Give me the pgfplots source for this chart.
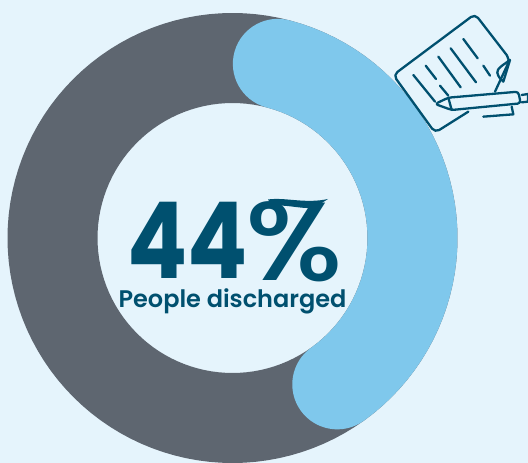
\documentclass[border=0pt]{standalone}
\usepackage{pgfplots}
\usepgfplotslibrary{polar}
\pgfplotsset{compat=1.18}
\usepackage{fontspec}
\setmainfont{Poppins}
\newfontfamily\mediumface{Poppins Medium}
\newfontfamily\semiface{Poppins SemiBold}
\definecolor{pagebg}{HTML}{E5F4FC}
\definecolor{ringgrey}{HTML}{5E6670}
\definecolor{ringblue}{HTML}{7FC8EC}
\definecolor{inkteal}{HTML}{00506F}
\begin{document}
\begin{tikzpicture}[x=1pt,y=1pt]
\fill[pagebg] (0,0) rectangle (528,463);
\useasboundingbox (0,0) rectangle (528,463);
\begin{polaraxis}[
  at={(232.5pt,225pt)}, anchor=center,
  scale only axis, width=450pt, height=450pt,
  hide axis, clip=false,
  xmin=0, xmax=360, ymin=0, ymax=225
]
% remaining 56 percent: the full ring lies underneath
\addplot[ringgrey, line width=90pt, line join=round, no markers] coordinates {
(0,180)(3,180)(6,180)(9,180)(12,180)(15,180)(18,180)(21,180)(24,180)(27,180)(30,180)
(33,180)(36,180)(39,180)(42,180)(45,180)(48,180)(51,180)(54,180)(57,180)(60,180)
(63,180)(66,180)(69,180)(72,180)(75,180)(78,180)(81,180)(84,180)(87,180)(90,180)
(93,180)(96,180)(99,180)(102,180)(105,180)(108,180)(111,180)(114,180)(117,180)(120,180)
(123,180)(126,180)(129,180)(132,180)(135,180)(138,180)(141,180)(144,180)(147,180)(150,180)
(153,180)(156,180)(159,180)(162,180)(165,180)(168,180)(171,180)(174,180)(177,180)(180,180)
(183,180)(186,180)(189,180)(192,180)(195,180)(198,180)(201,180)(204,180)(207,180)(210,180)
(213,180)(216,180)(219,180)(222,180)(225,180)(228,180)(231,180)(234,180)(237,180)(240,180)
(243,180)(246,180)(249,180)(252,180)(255,180)(258,180)(261,180)(264,180)(267,180)(270,180)
(273,180)(276,180)(279,180)(282,180)(285,180)(288,180)(291,180)(294,180)(297,180)(300,180)
(303,180)(306,180)(309,180)(312,180)(315,180)(318,180)(321,180)(324,180)(327,180)(330,180)
(333,180)(336,180)(339,180)(342,180)(345,180)(348,180)(351,180)(354,180)(357,180)(360,180)
(363,180)
};
% 44 percent arc, clockwise from the top, with rounded ends
\addplot[ringblue, line width=90pt, line join=round, line cap=round, no markers] coordinates {
(75.4,180)(72,180)(69,180)(66,180)(63,180)(60,180)(57,180)(54,180)(51,180)(48,180)
(45,180)(42,180)(39,180)(36,180)(33,180)(30,180)(27,180)(24,180)(21,180)(18,180)
(15,180)(12,180)(9,180)(6,180)(3,180)(0,180)(-3,180)(-6,180)(-9,180)(-12,180)
(-15,180)(-18,180)(-21,180)(-24,180)(-27,180)(-30,180)(-33,180)(-36,180)(-39,180)(-42,180)
(-45,180)(-48,180)(-51,180)(-54,180)(-54.4,180)
};
\end{polaraxis}
% centre figure and caption
\node[inkteal, anchor=base west, inner sep=0pt] at (127,184)
  {\scalebox{0.84}[1]{\fontsize{106}{106}\selectfont\bfseries 44}};
\node[inkteal, anchor=base west, inner sep=0pt] at (245,182)
  {\scalebox{1.16}[1.05]{\fontsize{106}{106}\selectfont\mediumface \%}};
% flourish joining the upper ring of the percent sign to its stroke
\fill[inkteal] (268,263.5) .. controls (285,266) and (305,259) .. (328,264)
  -- (314,255) .. controls (300,254) and (285,259) .. (272,257) -- cycle;
\node[inkteal, anchor=base, inner sep=0pt] at (232.5,155)
  {\fontsize{24}{24}\selectfont\semiface People discharged};
% document and pen icon
\begin{scope}[shift={(380,463)}, x=0.33333pt, y=-0.33333pt,
  inkteal, line width=2.3pt, line cap=round, line join=round]
\draw[rounded corners=5pt] (345,275) -- (390,178) -- (285,42) -- (40,225) -- (165,398) -- (265,335);
\draw (390,180) .. controls (370,195) and (350,205) .. (352,218) .. controls (354,230) and (362,238) .. (370,245) -- (390,180);
\draw (100,225) -- (165,305);
\draw (137,197) -- (168,237);
\draw (175,170) -- (242,262);
\draw (212,145) -- (288,247);
\draw (250,117) -- (293,175);
\draw (180,257) -- (205,287);
\draw (310,197) -- (330,227);
\draw[rounded corners=3pt] (165,312) -- (205,293) -- (415,275) -- (422,310) -- (215,330) -- cycle;
\draw (205,293) -- (215,330);
\draw (425,285) -- (444,282) -- (444,305) -- (425,307);
\draw (395,320) -- (400,343) -- (310,350);
\end{scope}
\end{tikzpicture}
\end{document}
